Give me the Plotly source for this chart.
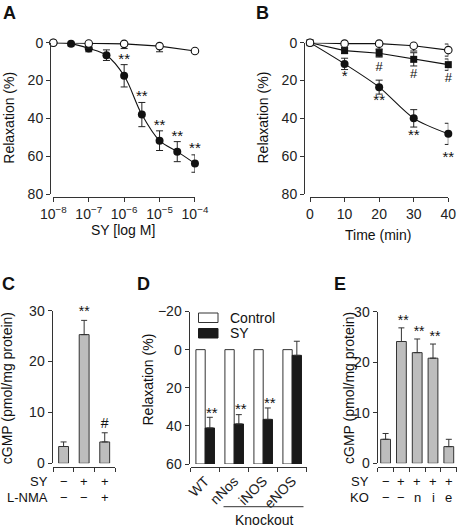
import plotly.graph_objects as go

W, H = 460, 528
def fx(x): return x / W
def fy(y): return 1 - y / H

FONT = "Arial, Liberation Sans, Helvetica, sans-serif"
AX = "#333333"
GRAY = "#bdbdbd"
EPS = 1e-3

# ---------------- Data ----------------
# Panel A: concentration-response (log M)
a_open_x = [1e-8, 1e-7, 1e-6, 1e-5, 1e-4]
a_open_y = [0, 0.4, 0.6, 1.8, 4.4]
a_open_err = [0, 2.5, 2.5, 3.0, 0]
a_fill_x = [1e-8, 10**-7.5, 1e-7, 10**-6.5, 1e-6, 10**-5.5, 1e-5, 10**-4.5, 1e-4]
a_fill_y = [0, 0.5, 3.0, 6.6, 17.5, 38.0, 51.8, 57.6, 63.9]
a_fill_err = [0, 1.2, 1.8, 2.8, 5.9, 6.4, 5.2, 5.3, 4.6]
a_sig_x = [1e-6, 10**-5.5, 1e-5, 10**-4.5, 1e-4]
a_sig_y = [9.5, 29, 44, 50, 56.5]
a_tickvals = [1e-8, 1e-7, 1e-6, 1e-5, 1e-4]
a_ticktext = ["10<sup>−8</sup>", "10<sup>−7</sup>", "10<sup>−6</sup>", "10<sup>−5</sup>", "10<sup>−4</sup>"]

# Panel B: time course
b_time = [0, 10, 20, 30, 40]
b_open_y = [0, 0.5, 0.5, 1.6, 3.9]
b_open_err = [0, 2.8, 2.8, 2.8, 3.2]
b_sq_y = [0, 4.2, 5.6, 8.8, 11.6]
b_sq_err = [0, 1.5, 2.0, 3.5, 3.0]
b_fill_y = [0, 11.2, 23.5, 40.0, 48.2]
b_fill_err = [0, 3.0, 3.7, 4.6, 5.6]
b_hash_x = [20, 30, 40]
b_hash_y = [13.0, 17.2, 19.0]
b_star_x = [10, 20, 30, 40]
b_star_y = [18.5, 31, 49.5, 61]
b_star_txt = ["*", "**", "**", "**"]

# Panel C: cGMP with L-NMA
c_cat = [0, 1, 2]
c_val = [3.3, 25.3, 4.2]
c_err = [0.9, 2.8, 1.8]
c_sy = ["−", "+", "+"]
c_lnma = ["−", "−", "+"]
c_sig = ["", "**", "#"]

# Panel D: knockout relaxation
d_cat = ["WT", "nNos", "iNOS", "eNOS"]
d_control = [0, 0, 0, 0]
d_sy = [41.1, 39.0, 36.6, 3.0]
d_sy_err = [5.6, 4.9, 6.0, 7.4]
d_sig = ["**", "**", "**", ""]
d_sig_y = [33, 31, 27.5, 0]

# Panel E: cGMP in knockouts
e_cat = [0, 1, 2, 3, 4]
e_val = [4.75, 24.1, 21.9, 20.8, 3.3]
e_err = [1.15, 2.7, 2.7, 2.8, 1.45]
e_sy = ["−", "+", "+", "+", "+"]
e_ko = ["−", "−", "n", "i", "e"]
e_sig = ["", "**", "**", "**", ""]

fig = go.Figure()

tickfont = dict(family=FONT, size=14, color="#222")
def axis_common():
    return dict(showgrid=False, zeroline=False, showline=True, linecolor=AX, linewidth=1,
                ticks="outside", ticklen=4, tickwidth=1, tickcolor=AX, tickfont=tickfont,
                anchor="free", automargin=False)

ebar = dict(type="data", thickness=1, width=3.5, color="#222")

def keep(xs, ys, ts):
    out = [(x, y, t) for x, y, t in zip(xs, ys, ts) if t]
    return [o[0] for o in out], [o[1] for o in out], [o[2] for o in out]

# ---------- Panel A ----------
fig.add_trace(go.Scatter(x=a_fill_x, y=a_fill_y, mode="lines+markers", xaxis="x", yaxis="y",
                         line=dict(color="#111", width=1.1, shape="spline", smoothing=1.0),
                         marker=dict(size=8, color="#111", symbol="circle"),
                         error_y=dict(array=a_fill_err, **ebar), cliponaxis=False, showlegend=False))
fig.add_trace(go.Scatter(x=a_open_x, y=a_open_y, mode="lines+markers", xaxis="x", yaxis="y",
                         line=dict(color="#111", width=1.1),
                         marker=dict(size=7.5, color="white", symbol="circle", line=dict(color="#111", width=1.1)),
                         error_y=dict(array=a_open_err, **ebar), cliponaxis=False, showlegend=False))
fig.add_trace(go.Scatter(x=a_sig_x, y=a_sig_y, mode="text", text=["**"] * len(a_sig_x),
                         xaxis="x", yaxis="y", textfont=dict(family=FONT, size=15, color="#111"),
                         cliponaxis=False, showlegend=False, textposition="middle center"))

# ---------- Panel B ----------
fig.add_trace(go.Scatter(x=b_time, y=b_fill_y, mode="lines+markers", xaxis="x2", yaxis="y2",
                         line=dict(color="#111", width=1.1, shape="spline", smoothing=0.8),
                         marker=dict(size=8, color="#111", symbol="circle"),
                         error_y=dict(array=b_fill_err, **ebar), cliponaxis=False, showlegend=False))
fig.add_trace(go.Scatter(x=b_time, y=b_sq_y, mode="lines+markers", xaxis="x2", yaxis="y2",
                         line=dict(color="#111", width=1.1),
                         marker=dict(size=7, color="#111", symbol="square"),
                         error_y=dict(array=b_sq_err, **ebar), cliponaxis=False, showlegend=False))
fig.add_trace(go.Scatter(x=b_time, y=b_open_y, mode="lines+markers", xaxis="x2", yaxis="y2",
                         line=dict(color="#111", width=1.1),
                         marker=dict(size=7.5, color="white", symbol="circle", line=dict(color="#111", width=1.1)),
                         error_y=dict(array=b_open_err, **ebar), cliponaxis=False, showlegend=False))
fig.add_trace(go.Scatter(x=b_star_x, y=b_star_y, mode="text", text=b_star_txt, xaxis="x2", yaxis="y2",
                         textfont=dict(family=FONT, size=15, color="#111"), cliponaxis=False, showlegend=False))
fig.add_trace(go.Scatter(x=b_hash_x, y=b_hash_y, mode="text", text=["#"] * 3, xaxis="x2", yaxis="y2",
                         textfont=dict(family=FONT, size=13, color="#111"), cliponaxis=False, showlegend=False))

# ---------- Panel C ----------
fig.add_trace(go.Bar(x=c_cat, y=c_val, xaxis="x3", yaxis="y3", width=0.48,
                     marker=dict(color=GRAY, line=dict(color=AX, width=1)),
                     error_y=dict(type="data", symmetric=False, array=c_err, arrayminus=[0] * 3,
                                  thickness=1, width=3, color=AX), showlegend=False))
c_sig_y = [v + e + 1.6 for v, e in zip(c_val, c_err)]
cx, cy, ct = keep(c_cat, c_sig_y, c_sig)
fig.add_trace(go.Scatter(x=cx, y=cy, mode="text", text=ct, xaxis="x3", yaxis="y3",
                         textfont=dict(family=FONT, size=14, color="#111"), cliponaxis=False, showlegend=False))

# ---------- Panel D ----------
D_BASE = 60
fig.add_trace(go.Bar(x=d_cat, y=[v - D_BASE for v in d_control], base=D_BASE, xaxis="x4", yaxis="y4",
                     width=0.32, offset=-0.32,
                     name="Control", marker=dict(color="white", line=dict(color=AX, width=1)), showlegend=False))
fig.add_trace(go.Bar(x=d_cat, y=[v - D_BASE for v in d_sy], base=D_BASE, xaxis="x4", yaxis="y4",
                     width=0.32, offset=0.0,
                     name="SY", marker=dict(color="#1a1a1a", line=dict(color="#1a1a1a", width=1)),
                     error_y=dict(type="data", symmetric=False, array=[0] * 4, arrayminus=d_sy_err,
                                  thickness=1, width=3, color=AX), showlegend=False))

# ---------- Panel E ----------
fig.add_trace(go.Bar(x=e_cat, y=e_val, xaxis="x5", yaxis="y5", width=0.62,
                     marker=dict(color=GRAY, line=dict(color=AX, width=1)),
                     error_y=dict(type="data", symmetric=False, array=e_err, arrayminus=[0] * 5,
                                  thickness=1, width=3, color=AX), showlegend=False))
e_sig_y = [v + e + 1.3 for v, e in zip(e_val, e_err)]
ex, ey, et = keep([c + 0.12 for c in e_cat], e_sig_y, e_sig)
fig.add_trace(go.Scatter(x=ex, y=ey, mode="text", text=et, xaxis="x5", yaxis="y5",
                         textfont=dict(family=FONT, size=14, color="#111"), cliponaxis=False, showlegend=False))

layout = dict(
    width=W, height=H, margin=dict(l=0, r=0, t=0, b=0),
    paper_bgcolor="white", plot_bgcolor="white",
    font=dict(family=FONT, size=13, color="#222"),
    barmode="overlay",
)

# axes A
layout["xaxis"] = dict(axis_common(), type="log", range=[-8 - EPS, -4 + EPS], domain=[fx(53.3), fx(195)],
                       position=fy(197), tickvals=a_tickvals, ticktext=a_ticktext)
layout["yaxis"] = dict(axis_common(), range=[80, -EPS], domain=[fy(194), fy(42.7)], position=fx(50),
                       tickvals=[0, 20, 40, 60, 80])
# axes B
layout["xaxis2"] = dict(axis_common(), range=[-EPS, 40 + EPS], domain=[fx(310), fx(448.3)], position=fy(197),
                        tickvals=[0, 10, 20, 30, 40])
layout["yaxis2"] = dict(axis_common(), range=[80, -EPS], domain=[fy(194), fy(42.7)], position=fx(304),
                        tickvals=[0, 20, 40, 60, 80])
# axes C
layout["xaxis3"] = dict(axis_common(), type="linear", range=[-0.5, 2.5], domain=[fx(53.3), fx(115)],
                        position=fy(466.5), tickvals=[-0.5, 0.5, 1.5, 2.5], showticklabels=False)
layout["yaxis3"] = dict(axis_common(), range=[0, 30], domain=[fy(463.3), fy(310.7)], position=fx(51.5),
                        tickvals=[0, 10, 20, 30])
# axes D
layout["xaxis4"] = dict(axis_common(), type="category", range=[-0.5, 3.5], domain=[fx(190.7), fx(306.7)],
                        position=fy(466.5), tickson="boundaries", tickangle=-45)
layout["yaxis4"] = dict(axis_common(), range=[60, -20], domain=[fy(464), fy(311.5)], position=fx(188.5),
                        tickvals=[-20, 0, 20, 40, 60])
# axes E
layout["xaxis5"] = dict(axis_common(), type="linear", range=[-0.5, 4.5], domain=[fx(377.7), fx(456.7)],
                        position=fy(466.5), tickvals=[-0.5, 0.5, 1.5, 2.5, 3.5, 4.5], showticklabels=False)
layout["yaxis5"] = dict(axis_common(), range=[0, 30], domain=[fy(463.3), fy(311.7)], position=fx(376.5),
                        tickvals=[0, 10, 20, 30])

fig.update_layout(**layout)

ann = []
def text(x, y, s, size=14, bold=False, angle=0, xanchor="center", yanchor="middle"):
    ann.append(dict(x=fx(x), y=fy(y), xref="paper", yref="paper", text=("<b>%s</b>" % s) if bold else s,
                    showarrow=False, textangle=angle, xanchor=xanchor, yanchor=yanchor,
                    font=dict(family=FONT, size=size, color="#111")))

def data_text(x, xref, y, s, size=13):
    ann.append(dict(x=x, y=fy(y), xref=xref, yref="paper", yanchor="middle", text=s,
                    showarrow=False, font=dict(family=FONT, size=size, color="#111")))

# panel letters
for lab, x, y in [("A", 9, 13), ("B", 262, 13), ("C", 8, 284), ("D", 143, 284), ("E", 340, 284)]:
    text(x, y, lab, size=18, bold=True)

# axis titles
text(8.7, 118, "Relaxation (%)", angle=-90)
text(262.5, 118, "Relaxation (%)", angle=-90)
text(123, 230, "SY [log M]")
text(378, 235, "Time (min)")
text(7.2, 388, "cGMP (pmol/mg protein)", angle=-90)
text(147.5, 380, "Relaxation (%)", angle=-90)
text(349, 388, "cGMP (pmol/mg protein)", angle=-90)

# C row labels
text(50, 481.5, "SY", size=13, xanchor="right")
text(50, 497.5, "L-NMA", size=13, xanchor="right")
for i, (s1, s2) in enumerate(zip(c_sy, c_lnma)):
    data_text(c_cat[i], "x3", 481.5, s1)
    data_text(c_cat[i], "x3", 497.5, s2)

# E row labels
text(371, 481.5, "SY", size=13, xanchor="right")
text(371, 497.5, "KO", size=13, xanchor="right")
for i, (s1, s2) in enumerate(zip(e_sy, e_ko)):
    data_text(e_cat[i], "x5", 481.5, s1)
    data_text(e_cat[i], "x5", 497.5, s2)

# D significance
for i, (s, yv) in enumerate(zip(d_sig, d_sig_y)):
    if s:
        ann.append(dict(x=i + 0.22, y=yv, xref="x4", yref="y4", text=s, showarrow=False,
                        font=dict(family=FONT, size=15, color="#111")))

# D legend and knockout label
text(228, 317.5, "Control", size=14, xanchor="left")
text(228, 333, "SY", size=14, xanchor="left")
text(264, 520, "Knockout", size=14)

fig.update_layout(annotations=ann)

shapes = [
    dict(type="rect", xref="paper", yref="paper", x0=fx(198.5), x1=fx(218), y0=fy(322.5), y1=fy(313),
         fillcolor="white", line=dict(color=AX, width=1)),
    dict(type="rect", xref="paper", yref="paper", x0=fx(198.5), x1=fx(218), y0=fy(338), y1=fy(328.5),
         fillcolor="#1a1a1a", line=dict(color="#1a1a1a", width=1)),
    dict(type="line", xref="paper", yref="paper", x0=fx(223.5), x1=fx(303.5), y0=fy(506.7), y1=fy(506.7),
         line=dict(color=AX, width=1)),
]
fig.update_layout(shapes=shapes)

fig.write_html("out.html", config={"displayModeBar": False})

# remove default body margin so the figure sits at the page origin
with open("out.html", "r", encoding="utf-8") as f:
    html = f.read()
html = html.replace("<head>", "<head><style>html,body{margin:0;padding:0;overflow:hidden;}</style>", 1)
with open("out.html", "w", encoding="utf-8") as f:
    f.write(html)
